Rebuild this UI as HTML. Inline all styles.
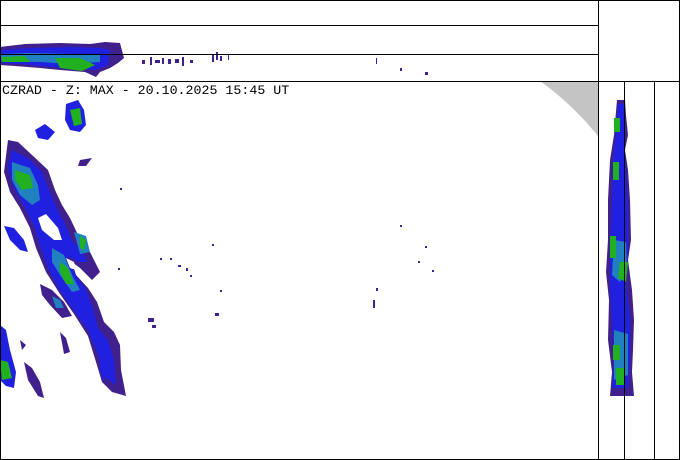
<!DOCTYPE html>
<html><head><meta charset="utf-8"><style>
html,body{margin:0;padding:0;background:#fff}
svg{display:block}
</style></head><body>
<svg width="680" height="460" viewBox="0 0 680 460" xmlns="http://www.w3.org/2000/svg">
<rect x="0" y="0" width="680" height="460" fill="#fff"/>
<path d="M540,81 L598,81 L598,136 Q572,104 540,81 Z" fill="#c4c4c4"/>

<g>
<path d="M0,47 L25,44 L60,43 L90,44 L105,42 L120,43 L124,58 L118,63 L110,68 L100,72 L96,77 L85,72 L60,70 L40,68 L15,66 L0,65 Z" fill="#40208c"/>
<path d="M0,50 L30,48 L70,47 L100,48 L110,50 L108,65 L95,70 L75,69 L50,67 L20,64 L0,63 Z" fill="#2020e0"/>
<path d="M0,54 L30,53 L70,54 L100,55 L100,62 L70,64 L40,62 L0,61 Z" fill="#2080c0"/>
<path d="M2,57 L25,56 L30,62 L2,62 Z M55,58 L80,58 L95,65 L82,71 L60,68 Z" fill="#20b020"/>
<g fill="#40208c">
<rect x="142" y="60" width="3" height="4"/><rect x="150" y="57" width="2" height="8"/><rect x="155" y="60" width="5" height="3"/>
<rect x="162" y="58" width="2" height="6"/><rect x="168" y="59" width="3" height="5"/><rect x="175" y="59" width="4" height="4"/>
<rect x="182" y="57" width="2" height="9"/><rect x="190" y="60" width="3" height="3"/><rect x="212" y="54" width="2" height="8"/>
<rect x="216" y="52" width="2" height="8"/><rect x="220" y="56" width="2" height="5"/><rect x="228" y="55" width="1" height="5"/>
<rect x="376" y="58" width="1" height="6"/><rect x="400" y="68" width="2" height="3"/><rect x="425" y="72" width="3" height="3"/>
</g>
</g>

<g>
<path d="M8,140 L18,142 L32,155 L48,170 L55,190 L62,205 L70,218 L78,235 L88,248 L100,272 L92,280 L80,268 L72,262 L76,275 L88,288 L97,302 L104,322 L114,332 L120,345 L121,370 L126,396 L112,392 L102,382 L96,362 L88,336 L74,314 L60,294 L46,272 L36,248 L30,228 L20,208 L10,192 L4,172 Z" fill="#40208c"/>
<path d="M12,150 L28,158 L42,172 L50,192 L58,210 L64,222 L72,240 L82,252 L88,262 L78,262 L68,256 L74,272 L86,290 L93,308 L98,328 L108,340 L114,360 L116,385 L106,378 L98,355 L88,330 L72,308 L58,288 L48,268 L40,246 L34,226 L24,206 L14,188 L8,168 Z" fill="#2020e0"/>
<path d="M12,162 L30,168 L38,185 L40,200 L32,205 L20,195 L12,180 Z M52,248 L64,255 L72,275 L80,290 L72,292 L60,275 L52,262 Z M74,232 L86,236 L90,252 L80,254 Z" fill="#2080c0"/>
<path d="M15,170 L30,175 L33,188 L22,190 L15,180 Z M60,262 L68,268 L74,284 L66,284 L60,272 Z M80,236 L86,240 L84,250 L80,248 Z" fill="#20b020"/>
<!-- holes -->
<path d="M38,218 L46,214 L58,228 L62,240 L54,240 L42,230 Z" fill="#fff"/>
<path d="M66,258 L74,262 L76,270 L70,268 Z" fill="#fff"/>
<path d="M66,104 L78,100 L84,110 L86,125 L80,132 L70,130 L65,120 Z" fill="#2020e0"/>
<path d="M70,110 L80,108 L82,124 L74,126 Z" fill="#20b020"/>
<path d="M35,130 L45,124 L55,132 L48,140 L38,138 Z" fill="#2020e0"/>
<path d="M80,160 L92,158 L86,166 L78,166 Z" fill="#40208c"/>
<path d="M4,226 L14,228 L24,240 L28,252 L20,250 L10,240 Z" fill="#2020e0"/>
<path d="M40,284 L52,290 L64,302 L72,316 L62,318 L50,305 L42,295 Z" fill="#40208c"/>
<path d="M52,296 L60,300 L64,308 L56,308 Z" fill="#2080c0"/>
<path d="M0,325 L6,330 L10,350 L16,372 L14,388 L6,386 L0,380 Z" fill="#2020e0"/>
<path d="M0,360 L8,362 L12,378 L2,380 Z" fill="#20b020"/>
<path d="M20,340 L26,345 L22,350 Z" fill="#40208c"/>
<path d="M60,332 L66,338 L70,352 L64,354 Z" fill="#40208c"/>
<path d="M24,362 L32,368 L40,382 L44,398 L38,396 L28,380 Z" fill="#40208c"/>
<path d="M100,356 L108,362 L104,382 L100,372 Z" fill="#2020e0"/>
<g fill="#40208c">
<rect x="148" y="318" width="6" height="4"/><rect x="152" y="325" width="4" height="3"/><rect x="215" y="313" width="4" height="3"/>
<rect x="373" y="300" width="2" height="8"/><rect x="376" y="288" width="2" height="3"/><rect x="418" y="261" width="2" height="2"/>
<rect x="432" y="270" width="2" height="2"/><rect x="400" y="225" width="2" height="2"/><rect x="425" y="246" width="2" height="2"/>
<rect x="178" y="265" width="3" height="2"/><rect x="186" y="268" width="2" height="3"/><rect x="170" y="258" width="2" height="2"/>
<rect x="190" y="275" width="2" height="2"/><rect x="212" y="244" width="2" height="2"/><rect x="220" y="290" width="2" height="2"/>
<rect x="160" y="258" width="2" height="2"/><rect x="120" y="188" width="2" height="2"/><rect x="118" y="268" width="2" height="2"/>
</g>
</g>

<g>
<path d="M617,100 L625,100 L626,115 L628,135 L625,150 L628,170 L630,200 L631,240 L628,260 L632,290 L634,320 L633,350 L632,372 L634,396 L610,396 L612,372 L608,340 L609,300 L606,272 L608,240 L608,200 L610,160 L614,135 Z" fill="#40208c"/>
<path d="M618,104 L624,104 L624,140 L626,170 L628,210 L628,250 L626,280 L630,320 L630,360 L628,388 L612,388 L614,360 L612,320 L610,290 L610,250 L612,200 L613,160 L616,130 Z" fill="#2020e0"/>
<path d="M614,240 L626,242 L627,270 L620,282 L612,275 Z M614,330 L628,334 L628,375 L614,380 Z" fill="#2080c0"/>
<path d="M614,118 L620,118 L620,132 L614,132 Z M613,162 L619,162 L619,180 L613,180 Z M610,236 L616,236 L616,258 L610,258 Z M620,262 L628,262 L626,282 L618,278 Z M613,345 L620,345 L620,360 L613,360 Z M616,368 L624,368 L624,385 L616,385 Z" fill="#20b020"/>
</g>

<g stroke="#000" stroke-width="1" fill="none" shape-rendering="crispEdges">
<rect x="0.5" y="0.5" width="679" height="459"/>
<line x1="0" y1="25.5" x2="598" y2="25.5"/>
<line x1="0" y1="54.5" x2="598" y2="54.5"/>
<line x1="0" y1="81.5" x2="680" y2="81.5"/>
<line x1="598.5" y1="0" x2="598.5" y2="460"/>
<line x1="624.5" y1="81" x2="624.5" y2="460"/>
<line x1="654.5" y1="81" x2="654.5" y2="460"/>
</g>
<text x="2" y="94" font-family="Liberation Mono, monospace" font-size="13.3" fill="#000">CZRAD - Z: MAX - 20.10.2025 15:45 UT</text>
</svg>
</body></html>
